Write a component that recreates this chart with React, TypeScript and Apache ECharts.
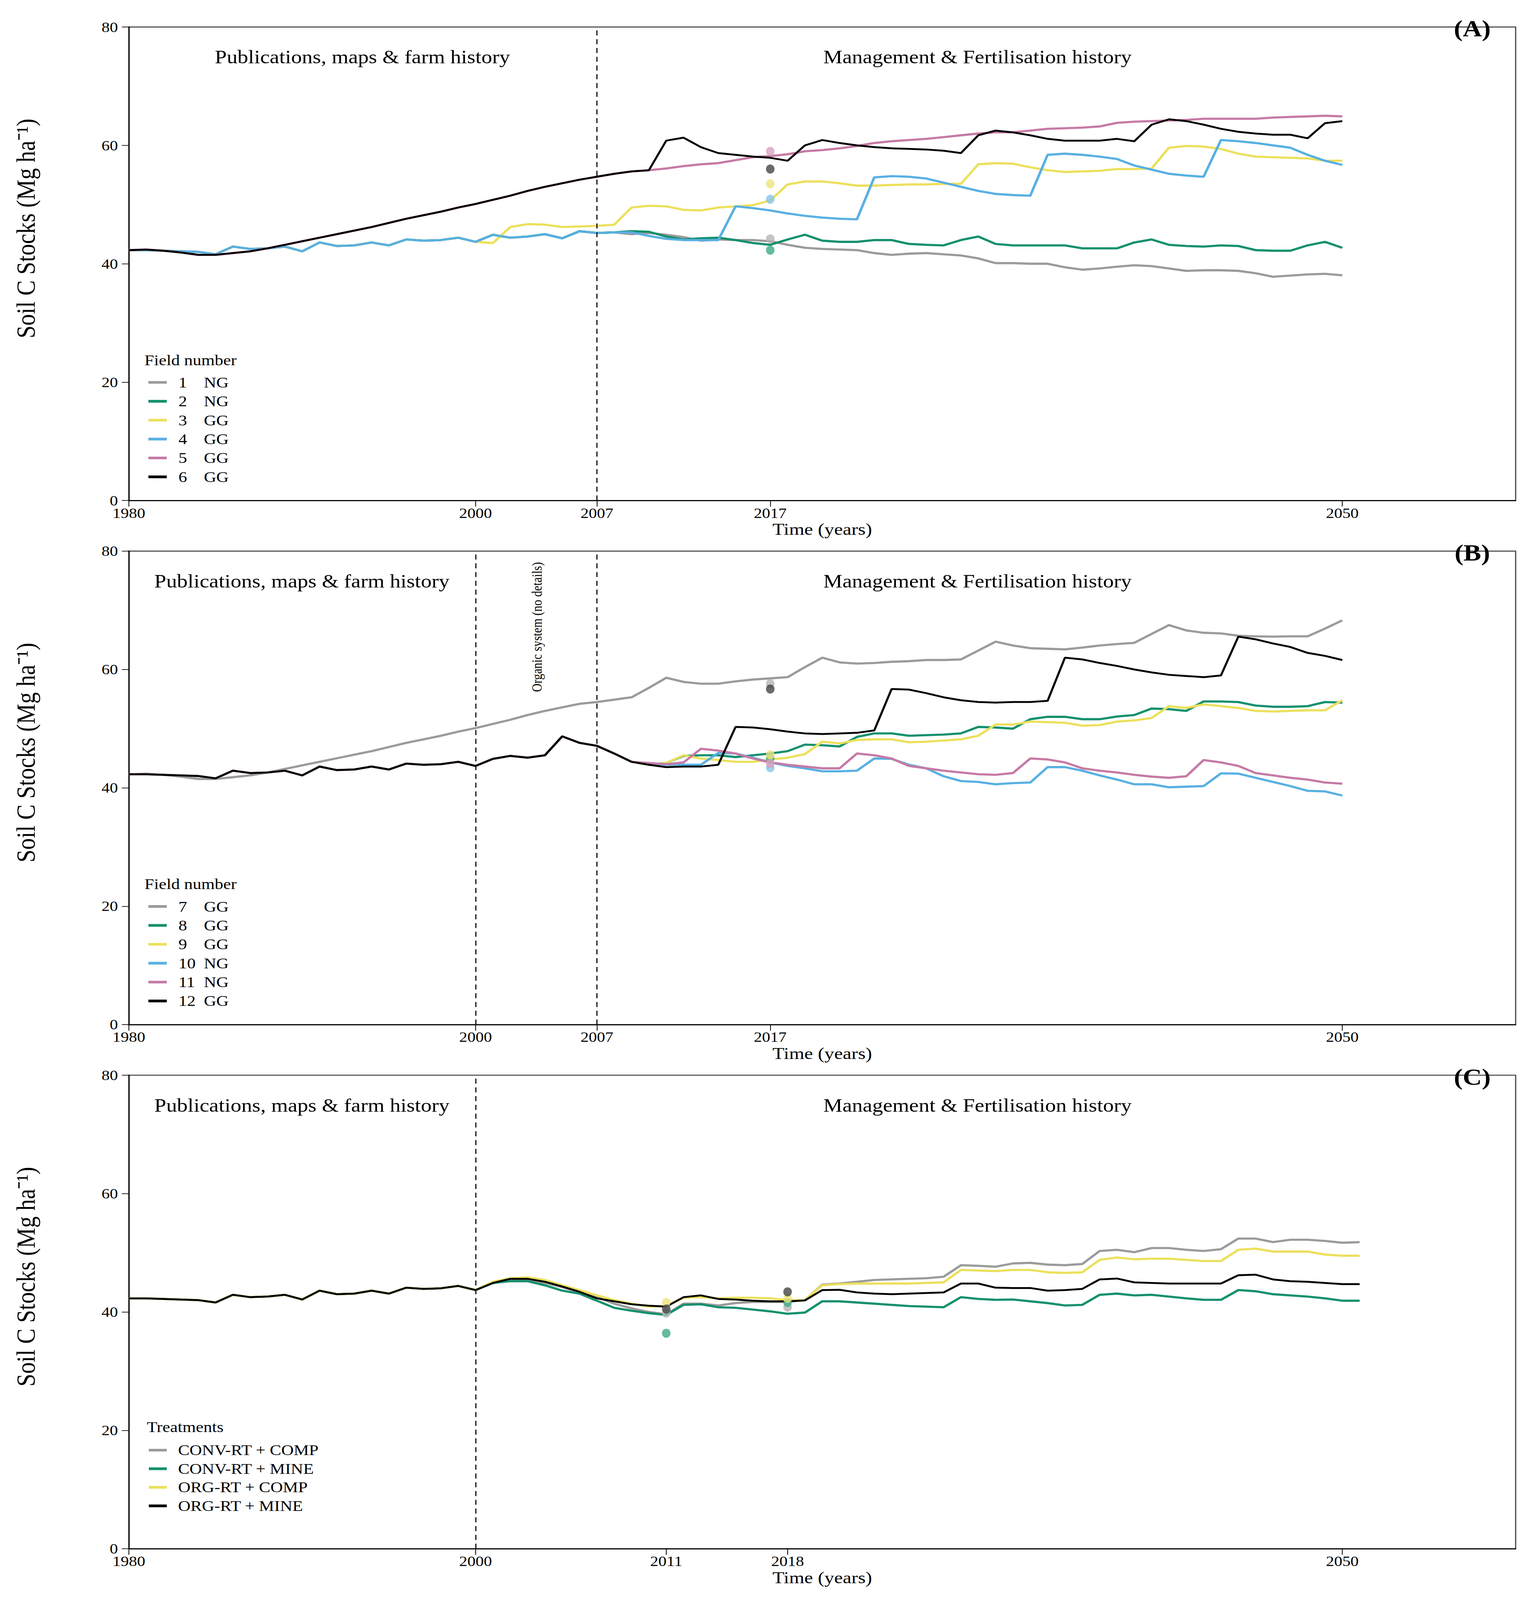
import React, { useEffect, useRef, useState } from "react";
import * as echarts from "echarts";

const FONT = '"Liberation Serif", "Times New Roman", Times, serif';
const FIG_W = 3928;
const FIG_H = 4741;

// ---------- x categories (years) ----------
const YEARS_AB = Array.from({ length: 71 }, (_, i) => 1980 + i); // 1980..2050
const YEARS_C = Array.from({ length: 72 }, (_, i) => 1980 + i); // 1980..2051

const TICKS_AB = [1980, 2000, 2007, 2017, 2050];
const TICKS_C = [1980, 2000, 2011, 2018, 2050];
const DASH_A = [2007];
const DASH_B = [2000, 2007];
const DASH_C = [2000];

// ---------- Panel A : fields 1-6 ----------
const FIELD_1 = [
  42.3, 42.3, 42.2, 42.1, 42.0, 41.6, 42.9, 42.5, 42.6, 42.9,
  42.1, 43.6, 43.0, 43.1, 43.6, 43.1, 44.1, 43.9, 44.0, 44.4,
  43.7, 44.9, 44.4, 44.6, 45.0, 44.3, 45.5, 45.2, 45.3, 45.0,
  45.2, 44.9, 44.5, 43.9, 44.1, 44.0, 44.0, 43.8, 43.2, 42.7,
  42.5, 42.4, 42.3, 41.8, 41.5, 41.7, 41.8, 41.6, 41.4, 40.9,
  40.1, 40.1, 40.0, 40.0, 39.4, 39.0, 39.2, 39.5, 39.75, 39.6,
  39.2, 38.8, 38.9, 38.9, 38.8, 38.4, 37.8, 38.0, 38.2, 38.3,
  38.05,
];
const FIELD_2 = [
  42.3, 42.3, 42.2, 42.1, 42.0, 41.6, 42.9, 42.5, 42.6, 42.9,
  42.1, 43.6, 43.0, 43.1, 43.6, 43.1, 44.1, 43.9, 44.0, 44.4,
  43.7, 44.9, 44.4, 44.6, 45.0, 44.3, 45.5, 45.2, 45.3, 45.5,
  45.4, 44.6, 44.1, 44.3, 44.4, 44.0, 43.5, 43.2, 44.1, 44.9,
  43.9, 43.7, 43.7, 44.0, 44.0, 43.35, 43.2, 43.1, 44.0, 44.6,
  43.35, 43.1, 43.1, 43.1, 43.1, 42.6, 42.6, 42.6, 43.6, 44.1,
  43.2, 43.0, 42.9, 43.1, 43.0, 42.3, 42.2, 42.2, 43.1, 43.7,
  42.7,
];
const FIELD_3 = [
  42.3, 42.3, 42.2, 42.1, 42.0, 41.6, 42.9, 42.5, 42.6, 42.9,
  42.1, 43.6, 43.0, 43.1, 43.6, 43.1, 44.1, 43.9, 44.0, 44.4,
  43.7, 43.5, 46.2, 46.7, 46.6, 46.2, 46.3, 46.4, 46.6, 49.5,
  49.8, 49.7, 49.1, 49.0, 49.5, 49.7, 49.9, 50.7, 53.4, 53.9,
  53.9, 53.6, 53.2, 53.2, 53.3, 53.4, 53.4, 53.5, 53.5, 56.8,
  57.0, 56.9, 56.3, 55.8, 55.5, 55.6, 55.7, 56.0, 56.0, 56.1,
  59.6, 59.9, 59.8, 59.4, 58.6, 58.1, 58.0, 57.9, 57.8, 57.4,
  57.4,
];
const FIELD_4 = [
  42.3, 42.3, 42.2, 42.1, 42.0, 41.6, 42.9, 42.5, 42.6, 42.9,
  42.1, 43.6, 43.0, 43.1, 43.6, 43.1, 44.1, 43.9, 44.0, 44.4,
  43.7, 44.9, 44.4, 44.6, 45.0, 44.3, 45.5, 45.2, 45.3, 45.3,
  44.7, 44.2, 44.0, 44.0, 44.0, 49.7, 49.4, 49.0, 48.5, 48.1,
  47.8, 47.6, 47.5, 54.6, 54.8, 54.7, 54.4, 53.7, 53.0, 52.3,
  51.8, 51.6, 51.5, 58.4, 58.6, 58.4, 58.1, 57.7, 56.6, 55.9,
  55.2, 54.9, 54.7, 60.9, 60.7, 60.4, 60.0, 59.6, 58.4, 57.4,
  56.7,
];
const FIELD_5 = [
  42.3, 42.4, 42.2, 41.9, 41.5, 41.5, 41.8, 42.1, 42.6, 43.2,
  43.8, 44.4, 45.0, 45.6, 46.2, 46.9, 47.6, 48.2, 48.8, 49.5,
  50.1, 50.8, 51.5, 52.3, 53.0, 53.6, 54.2, 54.7, 55.2, 55.6,
  55.8, 56.1, 56.5, 56.8, 57.0, 57.5, 58.0, 58.2, 58.5, 59.0,
  59.2, 59.5, 59.9, 60.4, 60.7, 60.9, 61.1, 61.4, 61.7, 62.0,
  62.2, 62.2, 62.5, 62.8, 62.9, 63.0, 63.2, 63.8, 64.0, 64.1,
  64.2, 64.3, 64.5, 64.5, 64.5, 64.5, 64.7, 64.8, 64.9, 65.0,
  64.9,
];
const FIELD_6 = [
  42.3, 42.4, 42.2, 41.9, 41.5, 41.5, 41.8, 42.1, 42.6, 43.2,
  43.8, 44.4, 45.0, 45.6, 46.2, 46.9, 47.6, 48.2, 48.8, 49.5,
  50.1, 50.8, 51.5, 52.3, 53.0, 53.6, 54.2, 54.7, 55.2, 55.6,
  55.8, 60.8, 61.3, 59.7, 58.7, 58.4, 58.1, 57.9, 57.4, 60.0,
  60.9, 60.4, 60.0, 59.7, 59.5, 59.4, 59.3, 59.1, 58.7, 61.7,
  62.5, 62.2, 61.7, 61.1, 60.8, 60.8, 60.8, 61.1, 60.7, 63.5,
  64.4, 64.1, 63.5, 62.8, 62.3, 62.0, 61.8, 61.8, 61.2, 63.75,
  64.1,
];

// ---------- Panel B : fields 7-12 ----------
const FIELD_7 = [
  42.3, 42.4, 42.2, 41.9, 41.5, 41.5, 41.8, 42.1, 42.6, 43.2,
  43.8, 44.4, 45.0, 45.6, 46.2, 46.9, 47.6, 48.2, 48.8, 49.5,
  50.1, 50.8, 51.5, 52.3, 53.0, 53.6, 54.2, 54.5, 54.9, 55.3,
  56.9, 58.6, 57.9, 57.6, 57.6, 58.0, 58.3, 58.5, 58.7, 60.4,
  62.0, 61.2, 61.0, 61.1, 61.3, 61.4, 61.6, 61.6, 61.7, 63.2,
  64.7, 64.05, 63.6, 63.5, 63.4, 63.7, 64.05, 64.3, 64.5, 66.0,
  67.5, 66.6, 66.2, 66.1, 65.7, 65.6, 65.55, 65.6, 65.6, 66.9,
  68.3,
];
const FIELD_8 = [
  42.3, 42.3, 42.2, 42.1, 42.0, 41.6, 42.9, 42.5, 42.6, 42.9,
  42.1, 43.6, 43.0, 43.1, 43.6, 43.1, 44.1, 43.9, 44.0, 44.4,
  43.7, 44.9, 45.4, 45.1, 45.5, 48.7, 47.6, 47.1, 45.8, 44.4,
  43.9, 44.2, 45.4, 45.5, 45.5, 45.2, 45.5, 45.8, 46.2, 47.3,
  47.2, 47.0, 48.6, 49.2, 49.2, 48.8, 48.9, 49.0, 49.2, 50.3,
  50.2, 50.0, 51.6, 52.0, 52.0, 51.6, 51.6, 52.05, 52.3, 53.4,
  53.3, 53.0, 54.6, 54.6, 54.5, 53.9, 53.7, 53.7, 53.8, 54.5,
  54.4,
];
const FIELD_9 = [
  42.3, 42.3, 42.2, 42.1, 42.0, 41.6, 42.9, 42.5, 42.6, 42.9,
  42.1, 43.6, 43.0, 43.1, 43.6, 43.1, 44.1, 43.9, 44.0, 44.4,
  43.7, 44.9, 45.4, 45.1, 45.5, 48.7, 47.6, 47.1, 45.8, 44.4,
  43.9, 44.2, 45.5, 44.95, 44.7, 44.4, 44.4, 44.8, 45.1, 45.7,
  47.8, 47.5, 48.1, 48.2, 48.2, 47.7, 47.8, 48.0, 48.2, 48.8,
  50.7, 50.7, 51.2, 51.1, 51.0, 50.5, 50.6, 51.2, 51.4, 51.8,
  53.8, 53.5, 54.1, 53.8, 53.5, 53.0, 52.9, 53.0, 53.1, 53.1,
  54.8,
];
const FIELD_10 = [
  42.3, 42.3, 42.2, 42.1, 42.0, 41.6, 42.9, 42.5, 42.6, 42.9,
  42.1, 43.6, 43.0, 43.1, 43.6, 43.1, 44.1, 43.9, 44.0, 44.4,
  43.7, 44.9, 45.4, 45.1, 45.5, 48.7, 47.6, 47.1, 45.8, 44.4,
  44.1, 43.9, 43.9, 43.9, 45.9, 45.8, 45.1, 44.3, 43.7, 43.3,
  42.8, 42.8, 42.9, 44.96, 44.9, 43.9, 43.3, 41.96, 41.15, 41.0,
  40.6, 40.8, 40.9, 43.5, 43.5, 42.9, 42.1, 41.4, 40.6, 40.6,
  40.1, 40.2, 40.3, 42.45, 42.4, 41.7, 41.0, 40.3, 39.5, 39.4,
  38.7,
];
const FIELD_11 = [
  42.3, 42.3, 42.2, 42.1, 42.0, 41.6, 42.9, 42.5, 42.6, 42.9,
  42.1, 43.6, 43.0, 43.1, 43.6, 43.1, 44.1, 43.9, 44.0, 44.4,
  43.7, 44.9, 45.4, 45.1, 45.5, 48.7, 47.6, 47.1, 45.8, 44.4,
  44.2, 44.0, 44.3, 46.6, 46.3, 45.8, 44.96, 44.3, 43.9, 43.6,
  43.3, 43.3, 45.8, 45.5, 44.96, 43.7, 43.3, 42.9, 42.6, 42.3,
  42.2, 42.5, 44.96, 44.8, 44.3, 43.3, 42.9, 42.6, 42.2, 41.9,
  41.7, 41.96, 44.7, 44.3, 43.7, 42.5, 42.1, 41.7, 41.4, 40.9,
  40.7,
];
const FIELD_12 = [
  42.3, 42.3, 42.2, 42.1, 42.0, 41.6, 42.9, 42.5, 42.6, 42.9,
  42.1, 43.6, 43.0, 43.1, 43.6, 43.1, 44.1, 43.9, 44.0, 44.4,
  43.7, 44.9, 45.4, 45.1, 45.5, 48.7, 47.6, 47.1, 45.8, 44.4,
  43.9, 43.5, 43.6, 43.6, 43.9, 50.3, 50.2, 49.9, 49.5, 49.2,
  49.1, 49.2, 49.3, 49.7, 56.7, 56.6, 56.0, 55.3, 54.8, 54.5,
  54.4, 54.5, 54.5, 54.7, 62.0, 61.7, 61.1, 60.6, 60.0, 59.5,
  59.1, 58.9, 58.7, 59.0, 65.55, 65.1, 64.4, 63.8, 62.8, 62.3,
  61.6,
];

// ---------- Panel C : treatments ----------
const CONV_COMP = [
  42.3, 42.3, 42.2, 42.1, 42.0, 41.6, 42.9, 42.5, 42.6, 42.9,
  42.1, 43.6, 43.0, 43.1, 43.6, 43.1, 44.1, 43.9, 44.0, 44.4,
  43.7, 45.0, 45.4, 45.3, 44.9, 44.2, 43.3, 42.5, 41.4, 40.6,
  40.0, 39.6, 41.4, 41.4, 41.1, 41.5, 41.7, 41.7, 41.7, 42.0,
  44.6, 44.8, 45.1, 45.4, 45.5, 45.6, 45.7, 45.95, 47.9, 47.8,
  47.65, 48.2, 48.3, 48.0, 47.9, 48.1, 50.3, 50.5, 50.1, 50.8,
  50.8, 50.5, 50.3, 50.6, 52.4, 52.4, 51.8, 52.2, 52.2, 52.0,
  51.7, 51.8,
];
const CONV_MINE = [
  42.3, 42.3, 42.2, 42.1, 42.0, 41.6, 42.9, 42.5, 42.6, 42.9,
  42.1, 43.6, 43.0, 43.1, 43.6, 43.1, 44.1, 43.9, 44.0, 44.4,
  43.7, 44.9, 45.2, 45.2, 44.5, 43.6, 43.1, 41.9, 40.7, 40.2,
  39.8, 39.5, 41.2, 41.3, 40.8, 40.7, 40.4, 40.1, 39.7, 39.9,
  41.8, 41.8, 41.6, 41.4, 41.2, 41.0, 40.9, 40.8, 42.5, 42.2,
  42.05, 42.1, 41.8, 41.5, 41.1, 41.2, 42.9, 43.1, 42.8, 42.9,
  42.6, 42.3, 42.05, 42.05, 43.7, 43.5, 43.0, 42.8, 42.6, 42.3,
  41.9, 41.9,
];
const ORG_COMP = [
  42.3, 42.3, 42.2, 42.1, 42.0, 41.6, 42.9, 42.5, 42.6, 42.9,
  42.1, 43.6, 43.0, 43.1, 43.6, 43.1, 44.1, 43.9, 44.0, 44.4,
  43.7, 45.1, 45.7, 45.85, 45.4, 44.5, 43.7, 42.8, 42.0, 41.4,
  40.9, 41.0, 42.4, 42.5, 42.3, 42.4, 42.4, 42.3, 42.0, 42.0,
  44.5, 44.7, 44.8, 44.8, 44.8, 44.8, 44.9, 45.0, 47.1, 47.0,
  46.9, 47.1, 47.1, 46.7, 46.6, 46.7, 48.8, 49.2, 48.9, 49.0,
  49.0, 48.8, 48.6, 48.6, 50.5, 50.7, 50.2, 50.2, 50.2, 49.7,
  49.5, 49.5,
];
const ORG_MINE = [
  42.3, 42.3, 42.2, 42.1, 42.0, 41.6, 42.9, 42.5, 42.6, 42.9,
  42.1, 43.6, 43.0, 43.1, 43.6, 43.1, 44.1, 43.9, 44.0, 44.4,
  43.7, 44.9, 45.6, 45.6, 45.1, 44.3, 43.4, 42.3, 41.8, 41.3,
  41.05, 40.9, 42.5, 42.8, 42.2, 42.1, 41.9, 41.8, 41.8, 41.95,
  43.7, 43.75, 43.3, 43.1, 43.0, 43.1, 43.2, 43.3, 44.8, 44.8,
  44.1, 44.05, 44.05, 43.6, 43.7, 43.9, 45.5, 45.65, 45.0, 44.9,
  44.8, 44.8, 44.8, 44.8, 46.2, 46.3, 45.5, 45.2, 45.1, 44.9,
  44.7, 44.7,
];

// ---------- Measured points ----------
const OBS_A_YEAR = 2017;
const OBS_A = [44.2, 42.3, 53.5, 50.9, 59.0, 56.0]; // fields 1..6
const OBS_B_YEAR = 2017;
const OBS_B = [57.6, 45.0, 45.6, 43.4, 44.1, 56.7]; // fields 7..12
const OBS_C_YEAR_1 = 2011;
const OBS_C_1 = [39.8, 36.4, 41.6, 40.5]; // conv-comp, conv-mine, org-comp, org-mine
const OBS_C_YEAR_2 = 2018;
const OBS_C_2 = [40.8, 41.6, 42.3, 43.4];

const FIELD_NAMES_A = ["1", "2", "3", "4", "5", "6"];
const FIELD_NAMES_B = ["7", "8", "9", "10", "11", "12"];
const FIELD_TYPES: Record<string, string> = {
  "1": "NG", "2": "NG", "3": "GG", "4": "GG", "5": "GG", "6": "GG",
  "7": "GG", "8": "GG", "9": "GG", "10": "NG", "11": "NG", "12": "GG",
};
const TREATMENTS = ["CONV-RT + COMP", "CONV-RT + MINE", "ORG-RT + COMP", "ORG-RT + MINE"];

// ---------- styles ----------
const C_GRAY = "#9b9b9b";
const C_GREEN = "#14906e";
const C_YELLOW = "#ece05c";
const C_BLUE = "#58b0e2";
const C_PINK = "#c67aa5";
const C_BLACK = "#000000";
const SIX = [C_GRAY, C_GREEN, C_YELLOW, C_BLUE, C_PINK, C_BLACK];
const PT = ["#b5b5b5", "#3daa88", "#efe47c", "#86c6ea", "#d8a2c1", "#444444"];
const PT_C = ["#b5b5b5", "#3daa88", "#efe47c", "#444444"];

const GRID_TOPS = [80, 1633, 3186];
const GRID_H = 1403;

function pairs(years: number[], vals: number[]) {
  return vals.map((v, i) => [years[i], v]);
}

function lineSeries(name: string, years: number[], vals: number[], color: string, gi: number, dashes?: number[]) {
  const s: any = {
    type: "line",
    name,
    xAxisIndex: gi,
    yAxisIndex: gi,
    data: pairs(years, vals),
    showSymbol: false,
    symbol: "none",
    color,
    lineStyle: { color, width: color === C_BLACK ? 5.5 : 6.5 },
    itemStyle: { color },
    emphasis: { disabled: true },
    silent: true,
    z: 3,
  };
  if (dashes) {
    s.markLine = {
      silent: true,
      symbol: ["none", "none"],
      label: { show: false },
      lineStyle: { type: [15, 11], color: "#111", width: 3 },
      data: dashes.map((d) => ({ xAxis: d })),
      animation: false,
    };
  }
  return s;
}

function scatterSeries(name: string, gi: number, pts: { x: number; y: number; c: string }[]) {
  return {
    type: "scatter",
    name,
    xAxisIndex: gi,
    yAxisIndex: gi,
    symbol: "circle",
    symbolSize: [22, 27],
    silent: true,
    z: 5,
    data: pts.map((p) => ({ value: [p.x, p.y], itemStyle: { color: p.c } })),
  };
}

function xAxis(gi: number, ticks: number[]) {
  return {
    type: "value",
    gridIndex: gi,
    min: 1980,
    max: 2060,
    axisLine: { show: true, onZero: false, lineStyle: { color: "#000", width: 3 } },
    axisTick: { show: true, customValues: ticks, length: 18, lineStyle: { color: "#000", width: 2 } },
    axisLabel: {
      customValues: ticks,
      formatter: (v: number) => String(v),
      fontSize: 42,
      fontFamily: FONT,
      color: "#000",
      margin: 16,
    },
    splitLine: { show: false },
    name: "Time (years)",
    nameLocation: "middle",
    nameGap: 60,
    nameTextStyle: { fontSize: 50, fontFamily: FONT, color: "#000" },
  };
}

function yAxis(gi: number) {
  return {
    type: "value",
    gridIndex: gi,
    min: 0,
    max: 80,
    interval: 20,
    axisLine: { show: true, lineStyle: { color: "#000", width: 3 } },
    axisTick: { show: true, length: 18, lineStyle: { color: "#000", width: 2 } },
    axisLabel: { fontSize: 42, fontFamily: FONT, color: "#000", margin: 28, verticalAlign: "middle" },
    splitLine: { show: false },
  };
}

function legendFields(names: string[], top: number) {
  return {
    data: names,
    orient: "vertical",
    left: 375,
    top,
    itemWidth: 47,
    itemHeight: 8,
    itemGap: 8,
    icon: "rect",
    selectedMode: false,
    formatter: (n: string) => `{n|${n}}{t|${FIELD_TYPES[n]}}`,
    textStyle: {
      fontFamily: FONT,
      fontSize: 44,
      color: "#000",
      lineHeight: 48,
      rich: {
        n: { width: 65, padding: [0, 0, 0, 25], fontFamily: FONT, fontSize: 44, lineHeight: 48, color: "#000" },
        t: { fontFamily: FONT, fontSize: 44, lineHeight: 48, color: "#000" },
      },
    },
  };
}

function txt(text: string, x: number, y: number, size: number, opts: any = {}) {
  return {
    type: "text",
    x,
    y,
    rotation: opts.rotation || 0,
    silent: true,
    z: 10,
    style: {
      text,
      fill: "#000",
      fontFamily: FONT,
      fontSize: size,
      fontWeight: opts.bold ? "bold" : "normal",
      textAlign: opts.align || "center",
      textVerticalAlign: "middle",
      verticalAlign: "middle",
    },
  };
}

const YLABEL = "Soil C Stocks (Mg ha\u207B\u00B9)";

function buildOption() {
  const fieldsA = [FIELD_1, FIELD_2, FIELD_3, FIELD_4, FIELD_5, FIELD_6];
  const fieldsB = [FIELD_7, FIELD_8, FIELD_9, FIELD_10, FIELD_11, FIELD_12];
  const treat = [CONV_COMP, CONV_MINE, ORG_COMP, ORG_MINE];
  const treatColors = [C_GRAY, C_GREEN, C_YELLOW, C_BLACK];

  const series: any[] = [];
  fieldsA.forEach((vals, i) =>
    series.push(lineSeries(FIELD_NAMES_A[i], YEARS_AB, vals, SIX[i], 0, i === 0 ? DASH_A : undefined))
  );
  fieldsB.forEach((vals, i) =>
    series.push(lineSeries(FIELD_NAMES_B[i], YEARS_AB, vals, SIX[i], 1, i === 0 ? DASH_B : undefined))
  );
  treat.forEach((vals, i) =>
    series.push(lineSeries(TREATMENTS[i], YEARS_C, vals, treatColors[i], 2, i === 0 ? DASH_C : undefined))
  );
  series.push(scatterSeries("Measured A", 0, OBS_A.map((v, i) => ({ x: OBS_A_YEAR, y: v, c: PT[i] }))));
  series.push(scatterSeries("Measured B", 1, OBS_B.map((v, i) => ({ x: OBS_B_YEAR, y: v, c: PT[i] }))));
  series.push(
    scatterSeries("Measured C", 2, [
      ...OBS_C_1.map((v, i) => ({ x: OBS_C_YEAR_1, y: v, c: PT_C[i] })),
      ...OBS_C_2.map((v, i) => ({ x: OBS_C_YEAR_2, y: v, c: PT_C[i] })),
    ])
  );

  const graphic: any[] = [];
  const pubX = [928, 773, 773];
  GRID_TOPS.forEach((top, i) => {
    graphic.push(txt("Publications, maps & farm history", pubX[i], top + 89, 55));
    graphic.push(txt("Management & Fertilisation history", 2503, top + 89, 55));
    graphic.push(txt(["(A)", "(B)", "(C)"][i], 3770, top + 5, 68, { bold: true }));
    graphic.push(txt(YLABEL, 66, top + 597, 68, { rotation: Math.PI / 2 }));
  });
  graphic.push(txt("Organic system (no details)", 1375, 1858, 35, { rotation: Math.PI / 2 }));
  graphic.push(txt("Field number", 370, 1067, 44, { align: "left" }));
  graphic.push(txt("Field number", 370, 2620, 44, { align: "left" }));
  graphic.push(txt("Treatments", 376, 4228, 44, { align: "left" }));

  return {
    animation: false,
    backgroundColor: "#ffffff",
    textStyle: { fontFamily: FONT },
    grid: GRID_TOPS.map((top) => ({
      left: 330,
      right: 47,
      top,
      height: GRID_H,
      show: true,
      borderColor: "#444",
      borderWidth: 3,
      backgroundColor: "transparent",
    })),
    xAxis: [xAxis(0, TICKS_AB), xAxis(1, TICKS_AB), xAxis(2, TICKS_C)],
    yAxis: [yAxis(0), yAxis(1), yAxis(2)],
    legend: [
      legendFields(FIELD_NAMES_A, 1104),
      legendFields(FIELD_NAMES_B, 2657),
      {
        data: TREATMENTS,
        orient: "vertical",
        left: 376,
        top: 4268,
        itemWidth: 46,
        itemHeight: 8,
        itemGap: 7,
        icon: "rect",
        selectedMode: false,
        formatter: (n: string) => `{t|${n}}`,
        textStyle: {
          fontFamily: FONT,
          fontSize: 44,
          color: "#000",
          lineHeight: 48,
          rich: { t: { padding: [0, 0, 0, 24], fontFamily: FONT, fontSize: 44, lineHeight: 48, color: "#000" } },
        },
      },
    ],
    series,
    graphic,
  };
}

export default function App() {
  const ref = useRef<HTMLDivElement>(null);
  // The browser viewport may be shorter than the figure; fit the figure's height into it.
  const vh = typeof window !== "undefined" && window.innerHeight > 0 ? window.innerHeight : FIG_H;
  const sy = Math.min(1, vh / FIG_H);
  useEffect(() => {
    document.body.style.margin = "0";
    document.body.style.overflow = "hidden";
    if (!ref.current) return;
    const chart = echarts.init(ref.current, undefined, { renderer: "svg", width: FIG_W, height: FIG_H });
    chart.setOption(buildOption() as any);
    return () => chart.dispose();
  }, []);
  return (
    <div style={{ width: FIG_W, height: Math.round(FIG_H * sy), overflow: "hidden", background: "#fff" }}>
      <div
        ref={ref}
        style={{
          width: FIG_W,
          height: FIG_H,
          background: "#fff",
          transform: `scaleY(${sy})`,
          transformOrigin: "0 0",
        }}
      />
    </div>
  );
}
